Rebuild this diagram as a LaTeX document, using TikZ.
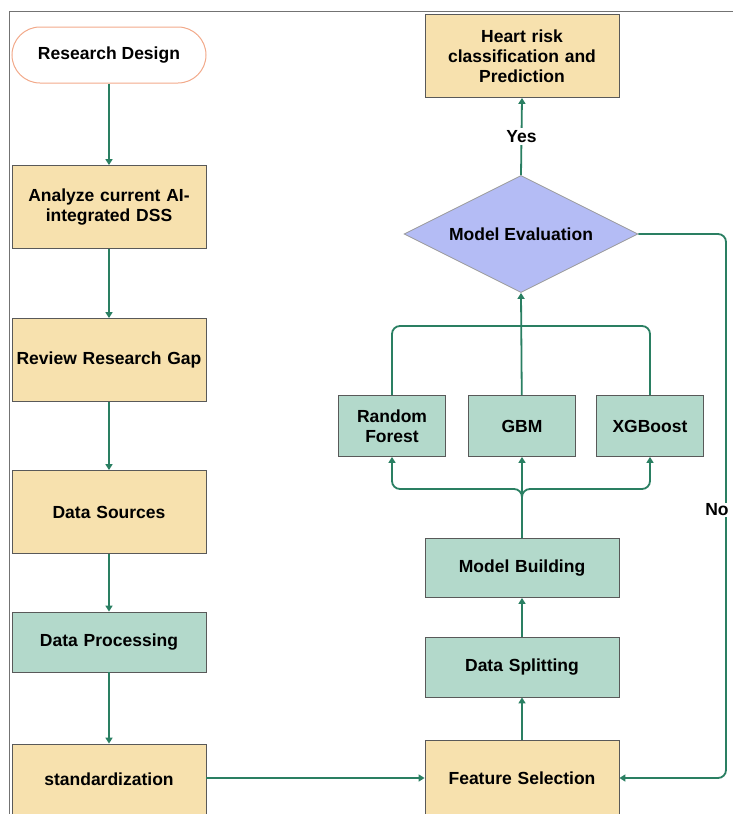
\documentclass[tikz,border=0pt]{standalone}
\usepackage{fontspec}
\setmainfont{Liberation Sans}
\usetikzlibrary{shapes.geometric,arrows.meta}

\definecolor{tanbox}{HTML}{F7E1AE}
\definecolor{tealbox}{HTML}{B3D9CB}
\definecolor{evalblue}{HTML}{B4BCF5}
\definecolor{flowgreen}{HTML}{2A7F62}
\definecolor{startline}{HTML}{F2A98A}

\tikzset{
  basebox/.style={draw=black!65, line width=0.8pt, align=center, inner sep=2pt,
    font=\fontsize{17.5}{20}\selectfont\bfseries},
  tanstep/.style={basebox, fill=tanbox, minimum width=194pt, minimum height=83pt, text width=190pt},
  tealstep/.style={basebox, fill=tealbox, minimum width=194pt, minimum height=60pt, text width=190pt},
  modelbox/.style={basebox, fill=tealbox, minimum width=107pt, minimum height=61pt, text width=103pt},
  flow/.style={draw=flowgreen, line width=1.8pt, -{Triangle[length=6pt,width=7pt]}},
  flowline/.style={draw=flowgreen, line width=1.8pt}
}

\begin{document}
\begin{tikzpicture}[x=1pt,y=-1pt]
        \useasboundingbox (0,0) rectangle (733,814);

        % outer frame
        \draw[black!55, line width=0.8pt] (9,814) |- (733,11);

        % Left column
        \node[basebox, draw=startline, line width=1pt, rounded corners=28pt,
              minimum width=194pt, minimum height=56pt] (design) at (109,55) {Research Design};
        \node[tanstep] (analyze) at (109,207) {Analyze current AI-\\integrated DSS};
        \node[tanstep] (gap) at (109,360) {Review Research Gap};
        \node[tanstep] (sources) at (109,512) {Data Sources};
        \node[tealstep] (processing) at (109,642) {Data Processing};
        \node[tanstep, minimum height=70pt] (standard) at (109,779) {standardization};

        % Right column
        \node[tanstep, minimum height=76pt] (features) at (522,778) {Feature Selection};
        \node[tealstep] (splitting) at (522,667) {Data Splitting};
        \node[tealstep, minimum height=59pt] (building) at (522,568) {Model Building};
        \node[modelbox] (forest) at (392,426) {Random\\Forest};
        \node[modelbox] (gbm) at (522,426) {GBM};
        \node[modelbox] (xgb) at (650,426) {XGBoost};
        \node[basebox, shape=diamond, fill=evalblue, draw=black!40, inner sep=0pt, aspect=2,
              minimum width=234pt, minimum height=117pt] (evaluation) at (521,234) {Model Evaluation};
        \node[tanstep] (risk) at (522,56) {Heart risk\\classification and\\Prediction};

        % bus points
        \coordinate (lowbus) at (522,489);
        \coordinate (highbus) at (522,326);
        \coordinate (nobend) at (726,510);

        % Left column arrows
        \draw[flow] (design) -- (analyze);
        \draw[flow] (analyze) -- (gap);
        \draw[flow] (gap) -- (sources);
        \draw[flow] (sources) -- (processing);
        \draw[flow] (processing) -- (standard);
        \draw[flow] (standard.east |- features.west) -- (features.west);

        % Right column arrows
        \draw[flow] (features) -- (splitting);
        \draw[flow] (splitting) -- (building);
        \draw[flow] (building) -- (gbm);
        \draw[flow, rounded corners=8pt] (building.north) -- (lowbus) -| (forest.south);
        \draw[flow, rounded corners=8pt] (building.north) -- (lowbus) -| (xgb.south);
        \draw[flow] (gbm) -- (evaluation.south);
        \draw[flowline, rounded corners=8pt] (forest.north) |- (highbus);
        \draw[flowline, rounded corners=8pt] (xgb.north) |- (highbus);
        \draw[flow] (evaluation.north) -- node[fill=white, inner sep=2pt,
              font=\fontsize{17.5}{20}\selectfont\bfseries] (yes) {Yes} (risk.south);
        \draw[flow, rounded corners=8pt] (evaluation.east) -| (nobend) |- (features.east);
        \node[fill=white, inner sep=1pt, font=\fontsize{17.5}{20}\selectfont\bfseries]
              (no) at (717,510) {No};
\end{tikzpicture}
\end{document}
